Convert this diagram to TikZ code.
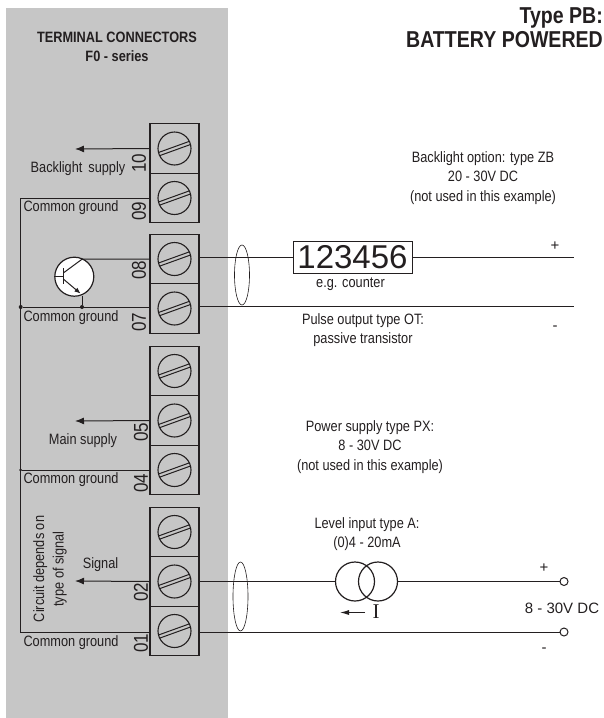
\documentclass[tikz,border=0pt]{standalone}
\usepackage{fontspec}
\setmainfont{Liberation Sans}
\newfontfamily\narrowfont[FakeStretch=0.85]{Liberation Sans}
\newfontfamily\serfont{Liberation Serif}
\usetikzlibrary{shapes,arrows.meta}
\definecolor{panel}{RGB}{198,198,198}
\definecolor{ink}{RGB}{35,31,32}
\tikzset{
	terminal/.style = {draw=ink, line width=1.2pt, rectangle, minimum height = 49.5pt,
		minimum width = 49pt, inner sep = 0pt},
	lbl/.style      = {text=ink, font=\narrowfont\fontsize{15}{19.5}\selectfont, align=center, inner sep=0pt},
	num/.style      = {text=ink, font=\narrowfont\fontsize{20}{20}\selectfont, rotate=90, inner sep=0pt},
	plain/.style    = {text=ink, font=\fontsize{15}{15}\selectfont, inner sep=0pt},
	head/.style     = {text=ink, font=\narrowfont\bfseries\fontsize{15}{19.5}\selectfont, align=center, inner sep=0pt},
	wire/.style     = {draw=ink, line width=1pt},
	jack/.style     = {draw=ink, circle, line width=1pt, minimum size = 8pt, inner sep = 0pt},
	dot/.style      = {fill=ink, circle, minimum size = 4pt, inner sep = 0pt}
}
\newcommand{\screw}[1]{
	\draw[ink, line width=1.1pt] (#1) circle (16.5pt);
	\draw[ink, line width=1pt] ([shift={(-16,4)}]#1.center) -- ([shift={(15,-7.2)}]#1.center);
	\draw[ink, line width=1pt] ([shift={(-15,7.2)}]#1.center) -- ([shift={(16,-4)}]#1.center);
}

\begin{document}
\begin{tikzpicture}[x=1pt, y=-1pt, >=latex]
	\useasboundingbox (0,0) rectangle (603,718);
	\fill[panel] (6,8) rectangle (228,718);

	\draw
	node at (174.5,148.5)[terminal] (t10) {}
	node at (174.5,198)[terminal] (t09) {}
	node at (174.5,259)[terminal] (t08) {}
	node at (174.5,308.5)[terminal] (t07) {}
	node at (174.5,371)[terminal] (t06) {}
	node at (174.5,420.5)[terminal] (t05) {}
	node at (174.5,470)[terminal] (t04) {}
	node at (174.5,532)[terminal] (t03) {}
	node at (174.5,581.5)[terminal] (t02) {}
	node at (174.5,631)[terminal] (t01) {};
	\foreach \t in {t10,t09,t08,t07,t06,t05,t04,t03,t02,t01}
		\screw{\t};

	\draw
	node at (139,163)[num] (n10) {10}
	node at (139,211)[num] (n09) {09}
	node at (139,270)[num] (n08) {08}
	node at (139,322)[num] (n07) {07}
	node at (141,432)[num] (n05) {05}
	node at (141,483)[num] (n04) {04}
	node at (141,592)[num] (n02) {02}
	node at (141,643)[num] (n01) {01};

	% ground rail
	\coordinate (g09) at (20.7,198);
	\coordinate (g01) at (20.7,632);
	\node at (82,307)[dot] (e07) {};
	\node at (20.7,307)[dot] (d07) {};
	\node at (20.7,470)[dot, minimum size=3pt] (d04) {};
	\draw[wire] (t09.west) -- (g09) -- (g01) -- (g01 -| t01.west);
	\draw[wire] (d07) -- (d07 -| t07.west);
	\draw[wire] (d04) -- (t04.west);

	% supply arrows
	\coordinate (a10) at (75,149);
	\coordinate (a05) at (75,421);
	\coordinate (a02) at (75,581);
	\draw[wire,-{Latex[length=9pt,width=7pt]}] (t10.west) -- (a10);
	\draw[wire,-{Latex[length=9pt,width=7pt]}] (t05.west) -- (a05);
	\draw[wire,-{Latex[length=9pt,width=7pt]}] (t02.west) -- (a02);

	% transistor
	\node at (74.3,276.7)[draw=ink, line width=1.2pt, fill=white, circle, minimum size = 39pt, inner sep = 0pt] (q1) {};
	\coordinate (qb) at (63.3,276);
	\coordinate (qc) at (82.3,259);
	\coordinate (qe) at (80.5,293.5);
	\draw[wire] (q1.west |- qb) -- (qb);
	\draw[ink, line width=1.2pt] (63.3,268) -- (63.3,284);
	\draw[wire] (63.3,273) -- (qc) -- (t08.west);
	\draw[wire,-{Latex[length=6pt,width=5pt]}] (63.3,279) -- (qe);
	\draw[wire] (82,296.3) -- (e07);

	% cable, upper pair
	\node at (352.5,257)[draw=ink, line width=0.9pt, minimum width=119pt, minimum height=32pt, inner sep=0pt, text=ink, font=\fontsize{33}{33}\selectfont] (disp) {123456};
	\coordinate (p8) at (574,257);
	\coordinate (p7) at (574,306);
	\draw[wire] (t08.east |- disp.west) -- (disp.west);
	\draw[wire] (disp.east) -- (p8);
	\draw[wire] (p7 -| t07.east) -- (p7);
	\node at (242,275)[draw=ink, line width=0.6pt, ellipse, minimum width=15pt, minimum height=60pt, inner sep=0pt] (c1) {};

	% cable, lower pair
	\node at (355,581.5)[draw=ink, line width=1.2pt, circle, minimum size=39pt, inner sep=0pt] (s1) {};
	\node at (378,581.5)[draw=ink, line width=1.2pt, circle, minimum size=39pt, inner sep=0pt] (s2) {};
	\node at (564,581.5)[jack] (j1) {};
	\node at (564,632)[jack] (j2) {};
	\draw[wire] (t02.east) -- (s1.west);
	\draw[wire] (s2.east) -- (j1.west);
	\draw[wire] (t01.east |- j2.west) -- (j2.west);
	\node at (240.5,596.5)[draw=ink, line width=0.6pt, ellipse, minimum width=15pt, minimum height=69pt, inner sep=0pt] (c2) {};
	\node at (376,612)[text=ink, inner sep=0pt, font=\serfont\fontsize{21}{21}\selectfont] (cur) {I};
	\coordinate (ia) at (365,612.5);
	\coordinate (ib) at (340,612.5);
	\draw[wire,-{Latex[length=9pt,width=5pt]}] (ia) -- (ib);

	% texts
	\draw
	node at (117,47)[head] (title) {TERMINAL CONNECTORS\\F0 - series}
	node at (78,169)[lbl] (l10) {Backlight\, supply}
	node at (71,208)[lbl] (l09) {Common ground}
	node at (71,318)[lbl] (l07) {Common ground}
	node at (83,441)[lbl] (l05) {Main supply}
	node at (71,480)[lbl] (l04) {Common ground}
	node at (100.5,565)[lbl] (l02) {Signal}
	node at (71,643)[lbl] (l01) {Common ground}
	node at (50,569)[lbl, rotate=90] (lc) {Circuit depends on\\type of signal}
	node at (483,178)[lbl] (tb) {Backlight option: type ZB\\20 - 30V DC\\(not used in this example)}
	node at (350.5,284)[lbl] (tc) {e.g. counter}
	node at (363,330)[lbl] (tp) {Pulse output type OT:\\passive transistor}
	node at (370,447)[lbl] (tx) {Power supply type PX:\\8 - 30V DC\\(not used in this example)}
	node at (367,534)[lbl] (ta) {Level input type A:\\(0)4 - 20mA}
	node at (562,608)[plain] (tv) {8 - 30V DC}
	node at (555,246)[plain] (pu) {+}
	node at (555,328)[plain] (mu) {-}
	node at (544,568)[plain] (pl) {+}
	node at (544,650)[plain] (ml) {-};
	\node[anchor=east, text=ink, inner sep=0pt, align=right, font=\narrowfont\bfseries\fontsize{23}{24}\selectfont] at (603,28) (type) {Type PB:\\BATTERY POWERED};
\end{tikzpicture}
\end{document}
